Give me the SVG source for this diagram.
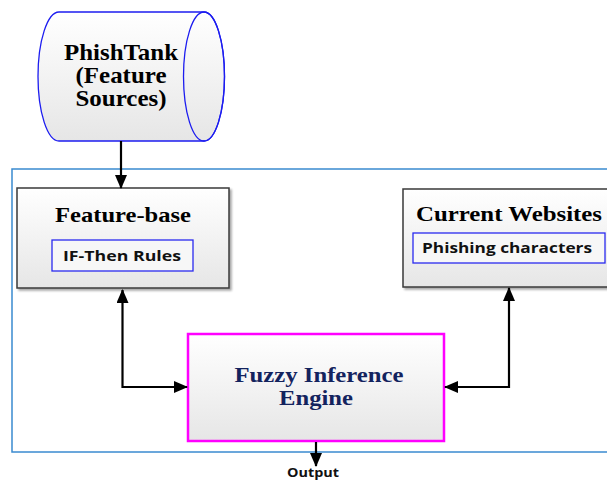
<svg xmlns="http://www.w3.org/2000/svg" width="607" height="481" viewBox="0 0 607 481">
<defs>
<linearGradient id="g" x1="0" y1="0" x2="0" y2="1">
<stop offset="0" stop-color="#ffffff"/>
<stop offset="1" stop-color="#e6e6e6"/>
</linearGradient>
<filter id="sh" x="-5%" y="-5%" width="115%" height="120%">
<feDropShadow dx="2" dy="2" stdDeviation="1.2" flood-color="#000" flood-opacity="0.35"/>
</filter>
<marker id="ah" viewBox="0 0 14 12" refX="13" refY="6" markerWidth="14" markerHeight="12" markerUnits="userSpaceOnUse" orient="auto-start-reverse">
<path d="M0,0 L14,6 L0,12 Z" fill="#000"/>
</marker>
</defs>
<style>
.title{font-family:"Liberation Serif","Times New Roman",serif;font-weight:bold;fill:#000;}
.sans{font-family:"Open Sans","Liberation Sans",sans-serif;font-weight:bold;fill:#111;}
.gbox{fill:url(#g);stroke:#3a3a3a;stroke-width:1.5;}
.inner{fill:#f7f7f7;stroke:#2a2af0;stroke-width:1.3;}
.conn{fill:none;stroke:#000;stroke-width:2.2;}
.navy{fill:#13235e;}
</style>

<rect id="container" x="12" y="169" width="600" height="283" fill="none" stroke="#3a8ad0" stroke-width="1.5"/>

<g id="phishtank">
<path d="M59,12 L204,12 A20.5,64.5 0 0 1 204,141 L59,141 A21,64.5 0 0 1 59,12 Z" fill="url(#g)" stroke="#1c1cf0" stroke-width="1.3"/>
<ellipse cx="204" cy="76.5" rx="20.5" ry="64.5" fill="none" stroke="#1c1cf0" stroke-width="1.3"/>
<text class="title" font-size="23" text-anchor="middle" x="121" y="60" textLength="114" lengthAdjust="spacingAndGlyphs">PhishTank</text>
<text class="title" font-size="23" text-anchor="middle" x="121" y="83" textLength="91" lengthAdjust="spacingAndGlyphs">(Feature</text>
<text class="title" font-size="23" text-anchor="middle" x="121" y="106" textLength="91" lengthAdjust="spacingAndGlyphs">Sources)</text>
</g>

<g id="featurebase">
<rect class="gbox" x="17" y="188" width="212" height="100" filter="url(#sh)"/>
<text class="title" font-size="21" text-anchor="middle" x="123" y="222" textLength="136" lengthAdjust="spacingAndGlyphs">Feature-base</text>
<rect class="inner" x="52" y="240" width="141" height="31"/>
<text class="sans" font-size="14.5" text-anchor="middle" x="122" y="261" textLength="118" lengthAdjust="spacingAndGlyphs">IF-Then Rules</text>
</g>

<g id="currentwebsites">
<rect class="gbox" x="403" y="189" width="215" height="98" filter="url(#sh)"/>
<text class="title" font-size="21" text-anchor="middle" x="509" y="221" textLength="186" lengthAdjust="spacingAndGlyphs">Current Websites</text>
<rect class="inner" x="413" y="233" width="192" height="30"/>
<text class="sans" font-size="14.5" text-anchor="middle" x="507" y="253" textLength="170" lengthAdjust="spacingAndGlyphs">Phishing characters</text>
</g>

<g id="fuzzy">
<rect x="188" y="334" width="256" height="107" fill="url(#g)" stroke="#ff00ff" stroke-width="2.5"/>
<text class="title navy" font-size="21" text-anchor="middle" x="319" y="382" textLength="169" lengthAdjust="spacingAndGlyphs">Fuzzy Inference</text>
<text class="title navy" font-size="21" text-anchor="middle" x="316" y="405" textLength="74" lengthAdjust="spacingAndGlyphs">Engine</text>
</g>

<g id="output">
<text class="sans" font-size="12" text-anchor="middle" x="313" y="477" textLength="52" lengthAdjust="spacingAndGlyphs">Output</text>
</g>

<g id="connectors">
<line class="conn" x1="121" y1="141" x2="121" y2="188" marker-end="url(#ah)"/>
<polyline class="conn" points="122.5,290 122.5,387 187,387" marker-start="url(#ah)" marker-end="url(#ah)"/>
<polyline class="conn" points="509,288 509,387 445,387" marker-start="url(#ah)" marker-end="url(#ah)"/>
<line class="conn" x1="316" y1="442" x2="316" y2="466" marker-end="url(#ah)"/>
</g>
</svg>
